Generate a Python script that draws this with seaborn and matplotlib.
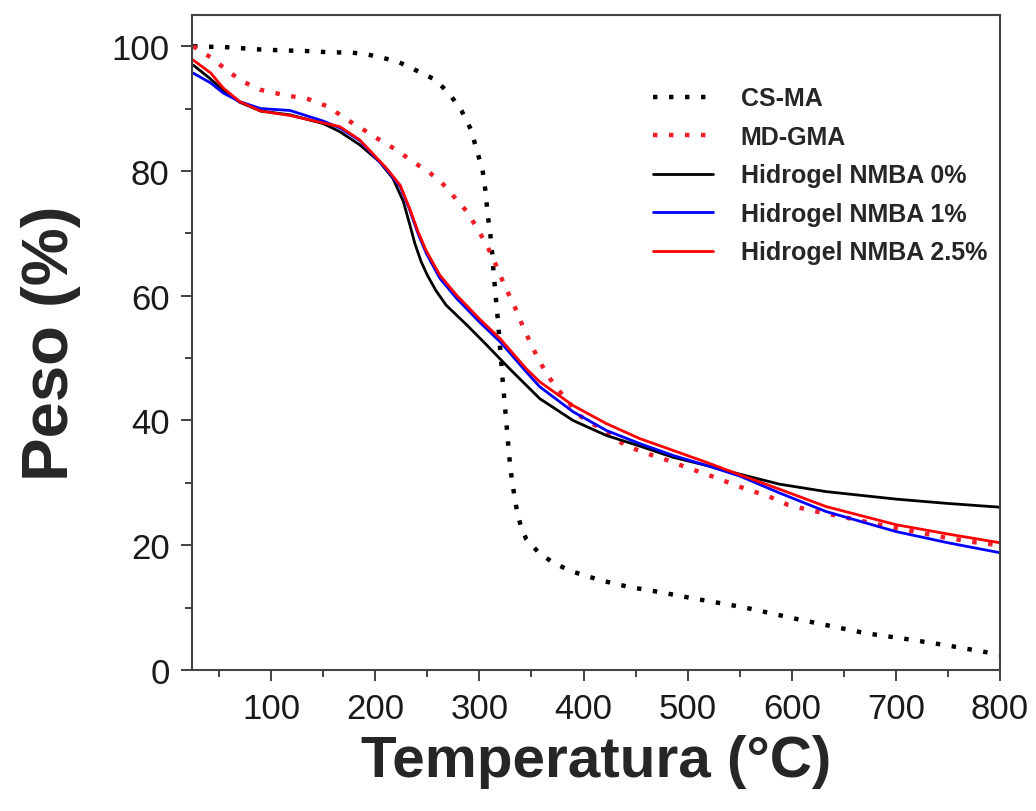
import pandas as pd
import matplotlib
matplotlib.use("Agg")
import matplotlib.pyplot as plt
import seaborn as sns
from matplotlib.ticker import MultipleLocator

# --- Data (temperature in C, weight in %) ---
CSMA_T = [25, 40, 51, 70, 86, 99, 117, 139, 157, 176, 192, 208, 222, 242, 258, 272, 283,
          292, 297, 303, 306, 308, 310, 312, 314, 316, 318, 322, 326, 328, 330, 333, 336, 340,
          345, 356, 369, 387, 416, 444, 473, 508, 539, 558, 607, 639, 671, 713, 751, 796, 800]
CSMA_W = [100, 99.9, 99.9, 99.7, 99.5, 99.4, 99.3, 99.2, 99.0, 99.0, 98.7, 98.1, 97.5, 95.9, 94.6, 92.2, 89.6,
          86.6, 83.6, 80.2, 76.6, 72.9, 70.7, 67.3, 63.0, 59.3, 55.7, 47.1, 39.5, 35.5, 32.0, 28.6, 25.6, 22.9,
          21.0, 19.0, 17.4, 15.9, 14.4, 13.3, 12.5, 11.4, 10.5, 9.9, 8.1, 7.0, 5.9, 4.9, 3.9, 2.6, 2.5]

MDGMA_T = [25, 43, 57, 72, 90, 112, 136, 155, 173, 187, 203, 221, 235, 251, 264, 276, 288,
           299, 308, 316, 324, 334, 342, 350, 358, 366, 371, 396, 427, 440, 461, 481, 502,
           521, 540, 558, 577, 596, 615, 636, 690, 745, 775, 800]
MDGMA_W = [100, 98.1, 96.2, 94.4, 93.0, 92.2, 91.5, 90.3, 88.2, 86.8, 85.1, 83.3, 81.6, 79.9, 78.1, 75.8, 73.5,
           70.5, 67.8, 64.9, 61.7, 58.2, 55.0, 52.1, 49.4, 47.2, 45.9, 40.8, 37.6, 36.0, 34.7, 33.6, 32.3,
           31.2, 30.0, 28.9, 27.9, 26.5, 25.7, 25.0, 23.1, 21.3, 20.5, 20.0]

HYD0_T = [25, 40, 55, 70, 90, 118, 150, 166, 185, 204, 217, 227, 233, 238, 244, 250, 258, 268, 288,
          307, 329, 358, 390, 422, 454, 486, 518, 550, 588, 633, 700, 750, 800]
HYD0_W = [97.0, 95.0, 92.8, 91.0, 89.6, 89.0, 87.6, 86.3, 84.2, 81.5, 78.8, 75.1, 71.5, 68.4, 65.5, 63.3, 60.9, 58.5, 55.3,
          52.1, 48.3, 43.5, 40.0, 37.6, 35.9, 34.1, 32.8, 31.4, 29.8, 28.6, 27.4, 26.7, 26.1]

HYD_T = [25, 42, 54, 70, 90, 118, 150, 166, 185, 211, 224, 233, 241, 249, 262, 278, 300, 320,
         345, 358, 390, 422, 454, 486, 518, 550, 588, 633, 700, 750, 800]
HYD1_W = [95.7, 94.1, 92.5, 91.1, 90.0, 89.7, 88.0, 86.9, 84.9, 80.2, 77.5, 73.8, 70.0, 66.8, 62.8, 59.6, 55.8, 52.6,
          47.8, 45.4, 41.4, 38.4, 36.3, 34.4, 32.8, 31.1, 28.4, 25.4, 22.2, 20.4, 18.8]
HYD25_W = [97.8, 95.7, 93.3, 91.1, 89.6, 88.9, 87.7, 87.1, 85.0, 80.4, 77.7, 74.0, 70.3, 67.2, 63.3, 60.1, 56.3, 53.1,
           48.3, 46.2, 42.4, 39.5, 37.1, 35.2, 33.3, 31.3, 29.0, 26.2, 23.3, 21.8, 20.4]

LABELS = ["CS-MA", "MD-GMA", "Hidrogel NMBA 0%", "Hidrogel NMBA 1%", "Hidrogel NMBA 2.5%"]

sns.set_style("white")
plt.rcParams['font.family'] = ['Liberation Sans', 'DejaVu Sans']

fig = plt.figure(figsize=(10.36, 8.12), dpi=100)
ax = fig.add_axes([0.1853, 0.1736, 0.78, 0.8067])

dot = (0, (1, 2.6))
sns.lineplot(x=CSMA_T, y=CSMA_W, color='black', lw=3.2, linestyle=dot, ax=ax, label=LABELS[0], sort=False)
sns.lineplot(x=MDGMA_T, y=MDGMA_W, color='#f01e28', lw=3.2, linestyle=dot, ax=ax, label=LABELS[1], sort=False)
sns.lineplot(x=HYD0_T, y=HYD0_W, color='black', lw=2, ax=ax, label=LABELS[2], sort=False)
sns.lineplot(x=HYD_T, y=HYD1_W, color='#0000ff', lw=2, ax=ax, label=LABELS[3], sort=False)
sns.lineplot(x=HYD_T, y=HYD25_W, color='#ff0000', lw=2, ax=ax, label=LABELS[4], sort=False)

ax.set_xlim(24, 800)
ax.set_ylim(0, 105)
ax.xaxis.set_major_locator(MultipleLocator(100))
ax.xaxis.set_minor_locator(MultipleLocator(50))
ax.yaxis.set_major_locator(MultipleLocator(20))
ax.yaxis.set_minor_locator(MultipleLocator(10))
ax.tick_params(which='both', direction='out', bottom=True, left=True, top=False, right=False,
               color='#333333', width=1.3)
ax.tick_params(which='major', length=8, labelsize=25, labelcolor='#1a1a1a')
ax.tick_params(axis='x', which='major', pad=8)
ax.tick_params(axis='y', which='major', pad=8)
ax.tick_params(which='minor', length=5)
ax.set_xticks([100, 200, 300, 400, 500, 600, 700, 800])
for s in ax.spines.values():
    s.set_linewidth(1.5)
    s.set_color('#444444')

ax.set_xlabel('Temperatura (°C)', fontsize=42, fontweight='bold', labelpad=6)
ax.set_ylabel('Peso (%)', fontsize=47, fontweight='bold', labelpad=22)

leg = ax.legend(loc='upper left', bbox_to_anchor=(0.5545, 0.91), frameon=False,
                prop={'weight': 'bold', 'size': 18}, handlelength=2.4, handletextpad=1.12,
                labelspacing=0.58, borderpad=0)

fig.savefig('out.png', dpi=100)
